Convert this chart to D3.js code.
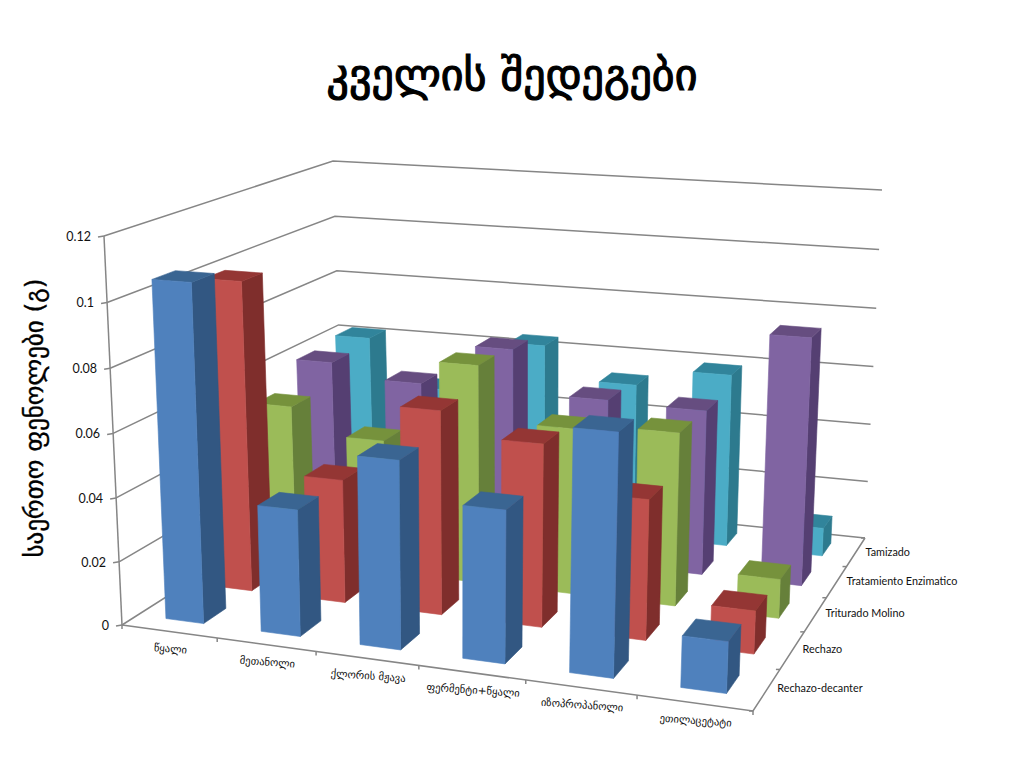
<!DOCTYPE html>
<html>
<head>
<meta charset="utf-8">
<script src="https://cdn.jsdelivr.net/npm/d3@7"></script>
<style>
body { margin: 0; background: #fff; }
</style>
</head>
<body>
<div id="vis"></div>
<script>
var categories = ["წყალი", "მეთანოლი", "ქლორის მჟავა", "ფერმენტი+წყალი", "იზოპროპანოლი", "ეთილაცეტატი"];
var seriesNames = ["Rechazo-decanter", "Rechazo", "Triturado Molino", "Tratamiento Enzimatico", "Tamizado"];
var yTicks = [0, 0.02, 0.04, 0.06, 0.08, 0.1, 0.12];

var decanter = [0.1058, 0.0393, 0.0577, 0.0462, 0.0723, 0.0152];
var rechazo = [0.1, 0.0395, 0.0646, 0.0573, 0.0435, 0.0132];
var triturado = [0.0523, 0.0438, 0.0714, 0.0537, 0.0555, 0.0124];
var enzimatico = [0.06, 0.0554, 0.0696, 0.0553, 0.0546, 0.0811];
var tamizado = [0.0617, 0.0455, 0.064, 0.0529, 0.059, 0.0095];
var values = [decanter, rechazo, triturado, enzimatico, tamizado];

var frontColors = ["#4f81bd", "#c0504d", "#9bbb59", "#8064a2", "#4bacc6"];
var sideColors = ["#325782", "#7f2e2c", "#66803a", "#553f72", "#2d7a8e"];
var topColors = ["#3a6592", "#943634", "#76923c", "#664d80", "#31849b"];

var width = 1024;
var height = 768;

var svg = d3.select("#vis")
    .append("svg")
    .attr("width", width)
    .attr("height", height);

// box corners on screen
var floor00 = [122, 625], floor10 = [753, 711], floor11 = [865, 538], floor01 = [344, 484];
var top00 = [104, 236], top11 = [882, 190], top01 = [333, 161];

// perspective divisor of the floor, solved from its four corners
var sx = floor00[0] - floor10[0] + floor11[0] - floor01[0];
var sy = floor00[1] - floor10[1] + floor11[1] - floor01[1];
var dx1 = floor10[0] - floor11[0];
var dx2 = floor01[0] - floor11[0];
var dy1 = floor10[1] - floor11[1];
var dy2 = floor01[1] - floor11[1];
var det = dx1 * dy2 - dx2 * dy1;
var pg = (sx * dy2 - dx2 * sy) / det;
var ph = (dx1 * sy - sx * dy1) / det;

function divisor(u, v) {
    return pg * u + ph * v + 1;
}

// a plane through three known corners that shares the same divisor
function planeMap(p00, p01, p11) {
    var out = [0, 1].map(function (k) {
        var b = p01[k] * divisor(0, 1) - p00[k];
        var a = p11[k] * divisor(1, 1) - b - p00[k];
        return [a, b, p00[k]];
    });
    return function (u, v) {
        var w = divisor(u, v);
        return out.map(function (c) {
            return (c[0] * u + c[1] * v + c[2]) / w;
        });
    };
}

var floorMap = planeMap(floor00, floor01, floor11);
var topMap = planeMap(top00, top01, top11);

function project(u, v, w) {
    var f = floorMap(u, v);
    var t = topMap(u, v);
    var k = w - 0.03 * w * (1 - w);
    return [f[0] + (t[0] - f[0]) * k, f[1] + (t[1] - f[1]) * k];
}

var xscale = d3.scaleBand().domain(d3.range(categories.length)).range([0, 1]).paddingInner(0.6).paddingOuter(0.3);
var zscale = d3.scaleBand().domain(d3.range(seriesNames.length)).range([0, 1]).paddingInner(0.55).paddingOuter(0.3);
var yscale = d3.scaleLinear().domain([0, 0.12]).range([0, 1]);

var line = d3.line();
var gridColor = "#868686";

var grid = svg.append("g")
    .attr("fill", "none")
    .attr("stroke", gridColor)
    .attr("stroke-width", 1.5);

yTicks.forEach(function (t) {
    var w = yscale(t);
    grid.append("path").attr("d", line([project(0, 0, w), project(0, 1, w), project(1, 1, w)]));
    grid.append("path").attr("d", line([project(0, 0, w), [project(0, 0, w)[0] - 6, project(0, 0, w)[1] + 1]]));
    svg.append("text")
        .attr("x", project(0, 0, w)[0] - 13)
        .attr("y", project(0, 0, w)[1] + 5)
        .attr("text-anchor", "end")
        .attr("font-family", "Lato")
        .attr("font-size", 12.5)
        .attr("fill", "#111")
        .text(t);
});

// outer frame of the box
grid.append("path").attr("d", line([project(0, 0, 0), project(0, 0, 1)]));
grid.append("path").attr("d", line([project(0, 0, 0), project(1, 0, 0), project(1, 1, 0)]));

d3.range(categories.length + 1).forEach(function (i) {
    var p = project(i / categories.length, 0, 0);
    grid.append("path").attr("d", line([p, [p[0], p[1] + 4]]));
});
d3.range(seriesNames.length + 1).forEach(function (i) {
    var p = project(1, i / seriesNames.length, 0);
    grid.append("path").attr("d", line([p, [p[0] - 4, p[1]]]));
});

// back series first so that nearer bars paint over them
d3.range(seriesNames.length - 1, -1, -1).forEach(function (s) {
    var v0 = zscale(s);
    var v1 = v0 + zscale.bandwidth();
    var g = svg.append("g").attr("class", "series").attr("stroke-width", 0.6);
    categories.forEach(function (c, i) {
        var u0 = xscale(i);
        var u1 = u0 + xscale.bandwidth();
        var w = yscale(values[s][i]);
        g.append("path")
            .attr("fill", sideColors[s])
            .attr("stroke", sideColors[s])
            .attr("d", line([project(u1, v0, 0), project(u1, v1, 0), project(u1, v1, w), project(u1, v0, w)]) + "Z");
        g.append("path")
            .attr("fill", topColors[s])
            .attr("stroke", topColors[s])
            .attr("d", line([project(u0, v0, w), project(u1, v0, w), project(u1, v1, w), project(u0, v1, w)]) + "Z");
        g.append("path")
            .attr("fill", frontColors[s])
            .attr("stroke", frontColors[s])
            .attr("d", line([project(u0, v0, 0), project(u1, v0, 0), project(u1, v0, w), project(u0, v0, w)]) + "Z");
    });
});

// category labels under the front edge
categories.forEach(function (c, i) {
    var p = project(xscale(i) + xscale.bandwidth() / 2, 0, 0);
    svg.append("text")
        .attr("transform", "translate(" + (p[0] + 1) + "," + (p[1] + 21) + ") rotate(4)")
        .attr("text-anchor", "middle")
        .attr("font-family", "DejaVu Sans")
        .attr("font-size", 10.6)
        .attr("fill", "#111")
        .text(c);
});

// series labels along the right edge
seriesNames.forEach(function (c, i) {
    var p = project(1, zscale(i) + zscale.bandwidth() / 2, 0);
    svg.append("text")
        .attr("x", p[0] + 10)
        .attr("y", p[1] + 3)
        .attr("font-family", "Lato")
        .attr("font-size", 10.8)
        .attr("fill", "#111")
        .text(c);
});

svg.append("text")
    .attr("x", 512)
    .attr("y", 90)
    .attr("text-anchor", "middle")
    .attr("font-family", "DejaVu Sans")
    .attr("font-size", 44)
    .attr("fill", "#000")
    .attr("stroke", "#000")
    .attr("stroke-width", 1.2)
    .text("კველის შედეგები");

svg.append("text")
    .attr("transform", "translate(43,418) rotate(-90)")
    .attr("text-anchor", "middle")
    .attr("font-family", "DejaVu Sans")
    .attr("font-size", 25)
    .attr("fill", "#000")
    .attr("stroke", "#000")
    .attr("stroke-width", 0.4)
    .text("საერთო ფენოლები (გ)");
</script>
</body>
</html>
